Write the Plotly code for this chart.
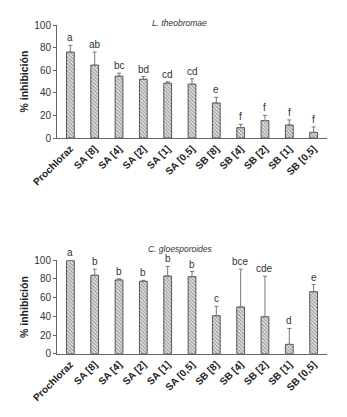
import plotly.graph_objects as go

categories = ["Prochloraz", "SA [8]", "SA [4]", "SA [2]", "SA [1]", "SA [0,5]",
              "SB [8]", "SB [4]", "SB [2]", "SB [1]", "SB [0,5]"]

lt_values = [76, 64.5, 54.7, 52, 48.5, 47.6, 31, 9.2, 15.4, 11.5, 5]
lt_errors = [6, 11.5, 2.7, 2.4, 1.2, 4.8, 5, 2.9, 4.6, 4.5, 4.8]
lt_letters = ["a", "ab", "bc", "bd", "cd", "cd", "e", "f", "f", "f", "f"]

cg_values = [100, 84, 79, 77.5, 83.2, 82.5, 40.7, 50, 39.6, 10, 66.4]
cg_errors = [0, 6.5, 1.2, 1, 10.2, 5.5, 10, 40.5, 43.3, 17, 7.6]
cg_letters = ["a", "b", "b", "b", "b", "b", "c", "bce", "cde", "d", "e"]

yticks = [0, 20, 40, 60, 80, 100]

# page body has an 8px margin; work in figure coordinates
OFF = 8
W, H = 347 - 2 * OFF, 417 - 2 * OFF
x0, x1 = 57 - OFF, 327 - OFF
top_y100, top_y0 = 25 - OFF, 138 - OFF
bot_y100, bot_y0 = 260.3 - OFF, 353.7 - OFF

def py(p):
    return 1 - p / H

fig = go.Figure()

def bar(values, errors, xa, ya):
    return go.Bar(
        x=categories, y=values, xaxis=xa, yaxis=ya,
        width=0.32,
        marker=dict(color="white", line=dict(color="#333333", width=0.8),
                    pattern=dict(shape="\\", size=2.5, solidity=0.6, fgcolor="#3a3a3a")),
        error_y=dict(type="data", array=errors, arrayminus=[0] * len(errors),
                     symmetric=False, color="#777777", thickness=1, width=2),
        showlegend=False,
    )

fig.add_trace(bar(lt_values, lt_errors, "x", "y"))
fig.add_trace(bar(cg_values, cg_errors, "x2", "y2"))

axfont = dict(family="Arial, Liberation Sans, sans-serif", size=10, color="#333333")
xcommon = dict(tickangle=-45, showline=True, linecolor="#666666", linewidth=1,
               ticks="", automargin=False,
               tickfont=dict(family="Arial, Liberation Sans, sans-serif",
                             size=10, color="#222222", weight="bold"),
               showgrid=False, zeroline=False, range=[-0.55, 10.55])
ycommon = dict(range=[0, 100], tickvals=yticks, showline=True, linecolor="#666666",
               linewidth=1, ticks="outside", ticklen=3, tickcolor="#666666",
               automargin=False,
               tickfont=axfont, showgrid=False, zeroline=False)

fig.update_layout(
    width=W, height=H, margin=dict(l=0, r=0, t=0, b=0, pad=0, autoexpand=False),
    paper_bgcolor="white", plot_bgcolor="white",
    xaxis=dict(domain=[x0 / W, x1 / W], anchor="y", **xcommon),
    yaxis=dict(domain=[py(top_y0), py(top_y100)], anchor="x", **ycommon),
    xaxis2=dict(domain=[x0 / W, x1 / W], anchor="y2", **xcommon),
    yaxis2=dict(domain=[py(bot_y0), py(bot_y100)], anchor="x2", **ycommon),
    bargap=0.6,
)

annots = []
for xa, ya, vals, errs, lets in [("x", "y", lt_values, lt_errors, lt_letters),
                                  ("x2", "y2", cg_values, cg_errors, cg_letters)]:
    for c, v, e, l in zip(categories, vals, errs, lets):
        annots.append(dict(x=c, y=v + e, xref=xa, yref=ya, text=l, showarrow=False,
                           xanchor="center", yanchor="bottom", yshift=0,
                           font=dict(family="Arial, Liberation Sans, sans-serif",
                                     size=10, color="#333333")))

annots.append(dict(x=(179 - OFF) / W, y=py(23 - OFF), xref="paper", yref="paper",
                   text="<i>L. theobromae</i>", showarrow=False,
                   xanchor="center", yanchor="middle",
                   font=dict(family="Arial, Liberation Sans, sans-serif", size=8.5, color="#333333")))
annots.append(dict(x=(180 - OFF) / W, y=py(249 - OFF), xref="paper", yref="paper",
                   text="<i>C. gloesporoides</i>", showarrow=False,
                   xanchor="center", yanchor="middle",
                   font=dict(family="Arial, Liberation Sans, sans-serif", size=8.5, color="#333333")))
for yc in [(top_y0 + top_y100) / 2, (bot_y0 + bot_y100) / 2]:
    annots.append(dict(x=(24 - OFF) / W, y=py(yc), xref="paper", yref="paper",
                       text="<b>% inhibición</b>", showarrow=False, textangle=-90,
                       xanchor="center", yanchor="middle",
                       font=dict(family="Arial, Liberation Sans, sans-serif", size=10.5, color="#222222")))

fig.update_layout(annotations=annots)
fig.write_html("out.html")
